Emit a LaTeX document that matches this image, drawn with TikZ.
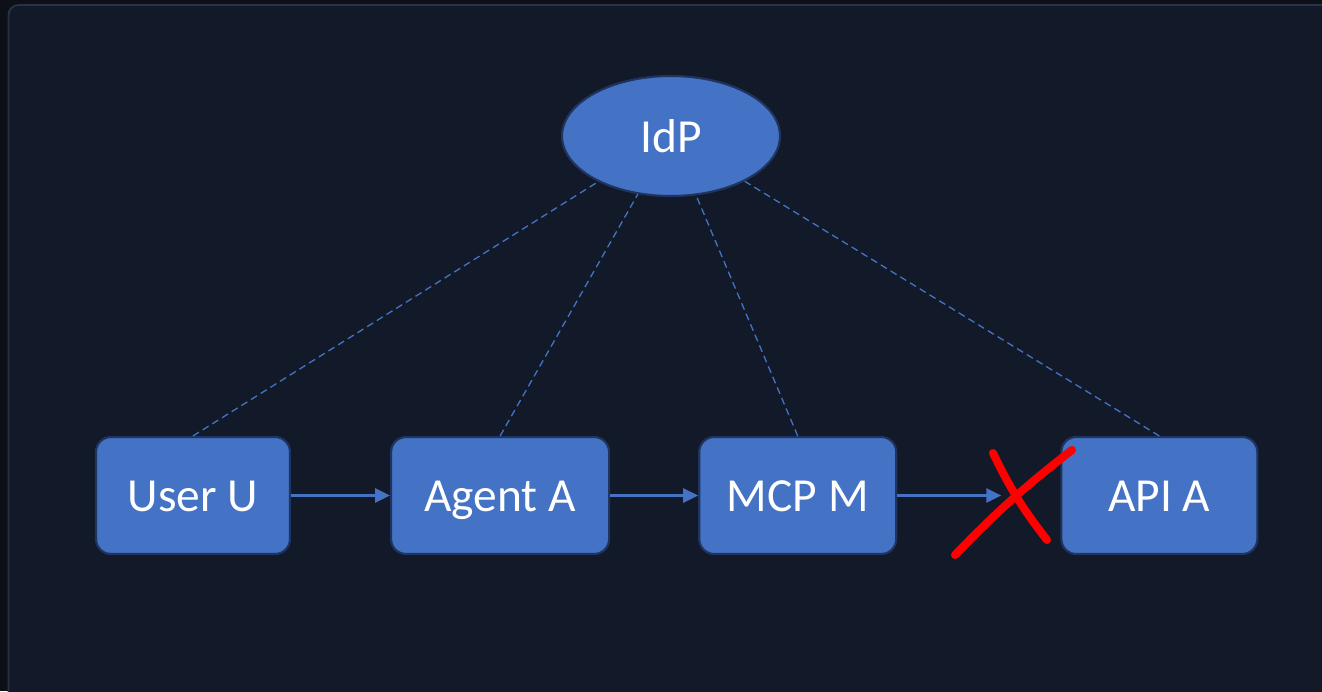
\documentclass[tikz,border=0pt]{standalone}
\usepackage{fontspec}
\setmainfont{Carlito}
\usepackage{tikz}
\usetikzlibrary{positioning, calc, shapes.geometric, arrows.meta}
\usepackage{xcolor}

\definecolor{pagebg}{HTML}{0D1117}
\definecolor{panelbg}{HTML}{121928}
\definecolor{panelline}{HTML}{2A3343}
\definecolor{boxfill}{HTML}{4472C4}
\definecolor{boxline}{HTML}{1F3560}

\begin{document}
\begin{tikzpicture}[
  actor/.style={rectangle, rounded corners=0.3cm, minimum height=2.34cm, minimum width=3.9cm, draw=boxline, line width=1.2pt, fill=boxfill, text=white, text height=21pt, text depth=2.5pt, font=\fontsize{27}{30}\selectfont},
  idp/.style={ellipse, minimum height=2.4cm, minimum width=4.36cm, draw=boxline, line width=1.2pt, fill=boxfill, text=white, font=\fontsize{27}{30}\selectfont},
  flow/.style={draw=boxfill, line width=1.4pt, -{Triangle[length=8.5pt, width=8pt]}},
  trust/.style={draw=boxfill, line width=0.75pt, dash pattern=on 4pt off 2.5pt},
  cross/.style={draw=red, line width=4.6pt, line cap=round}
]

    % Background and panel
    \useasboundingbox (0,0) rectangle (26.44,-13.82);
    \fill[pagebg] (0,0) rectangle (26.44,-13.82);
    \filldraw[fill=panelbg, draw=panelline, line width=1pt, rounded corners=0.2cm] (0.17,-0.1) rectangle (26.8,-14.2);

    % Identity provider
    \node[idp] (idp) at (13.42,-2.72) {IdP};

    % Chain of actors
    \node[actor, minimum width=3.88cm] (user) at (3.86,-9.91) {User U};
    \node[actor, minimum width=4.36cm, right=1.98cm of user] (agent) {Agent A};
    \node[actor, minimum width=3.94cm, right=1.76cm of agent] (mcp) {MCP M};
    \node[actor, minimum width=3.92cm, right=3.26cm of mcp] (api) {API A};

    % Trust links to the IdP
    \draw[trust] (user.north) -- (idp);
    \draw[trust] (agent.north) -- (idp);
    \draw[trust] (mcp.north) -- (idp);
    \draw[trust] (api.north) -- (idp);

    % Calls
    \coordinate (stop) at ($(api.west)+(-1.18,0)$);
    \draw[flow] (user) -- (agent);
    \draw[flow] (agent) -- (mcp);
    \draw[flow] (mcp) -- (stop);

    % Blocked call
    \draw[cross] (19.1,-11.1) to[bend left=4] (21.44,-9.0);
    \draw[cross] (19.86,-9.06) to[bend right=6] (20.94,-10.8);

\end{tikzpicture}
\end{document}
